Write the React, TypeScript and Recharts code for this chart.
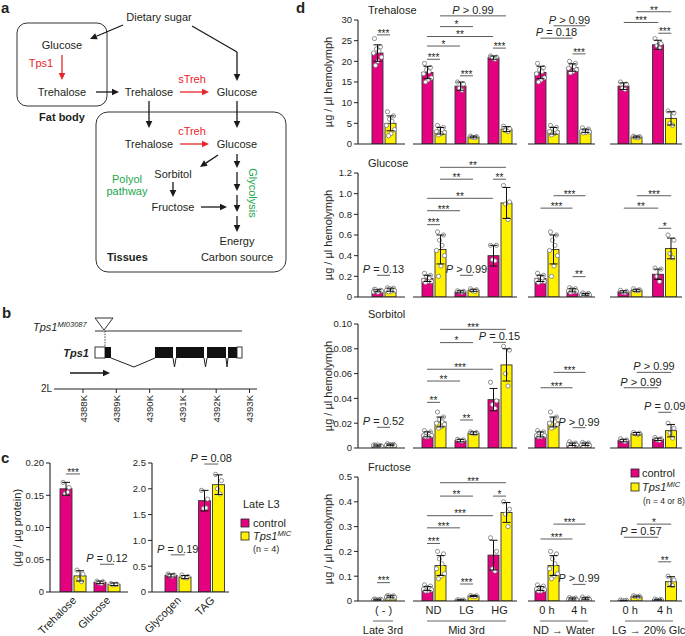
import React from "react";
import { BarChart, Bar, XAxis, YAxis, ErrorBar, ReferenceLine } from "recharts";

const MAGENTA = "#e4007f";
const YELLOW = "#fff100";
const INK = "#231f20";
const RED = "#e8262a";
const GREEN = "#1aa64b";
const FONT = "'Liberation Sans', Arial, sans-serif";

type Bracket = [number, number, number, number, number, string];

// ---------- panel c ----------
const cCatsA = ["Trehalose", "Glucose"];
const cCtrlA = [0.16, 0.015];
const cCtrlSdA = [0.01, 0.002];
const cMicA = [0.025, 0.012];
const cMicSdA = [0.008, 0.002];
const cCtrlPtsA = [[0.17, 0.162, 0.152, 0.155], [0.017, 0.016, 0.014, 0.013]];
const cMicPtsA = [[0.034, 0.028, 0.02, 0.016], [0.013, 0.012, 0.011, 0.012]];
const cBracketsA: Bracket[] = [[0, 0, 0, 1, 0.183, "***"], [1, 0, 1, 1, 0.043, "P = 0.12"]];
const cTicksA = [0, 0.05, 0.1, 0.15, 0.2];

const cCatsB = ["Glycogen", "TAG"];
const cCtrlB = [0.32, 1.77];
const cCtrlSdB = [0.03, 0.2];
const cMicB = [0.29, 2.08];
const cMicSdB = [0.03, 0.19];
const cCtrlPtsB = [[0.35, 0.33, 0.31, 0.3], [1.97, 1.8, 1.62, 1.63]];
const cMicPtsB = [[0.33, 0.3, 0.28, 0.27], [2.28, 2.16, 2.0, 1.9]];
const cBracketsB: Bracket[] = [[0, 0, 0, 1, 0.72, "P = 0.19"], [1, 0, 1, 1, 2.48, "P = 0.08"]];
const cTicksB = [0, 0.5, 1, 1.5, 2, 2.5];

// ---------- panel d ----------
const dCats = ["( - )", "ND", "LG", "HG", "0 h", "4 h", "0 h", "4 h"];
const dGroups = [[0], [1, 2, 3], [4, 5], [6, 7]];
const dGroupNames = ["Late 3rd", "Mid 3rd", "ND \u2192 Water", "LG \u2192 20% Glc"];

// Trehalose
const treCtrl = [22, 17.3, 14, 20.9, 17.3, 18.5, 14, 24];
const treCtrlSd = [2, 1.5, 1, 0.4, 1.5, 0.9, 0.8, 1.1];
const treMic = [5, 3.2, 1.7, 3.6, 3.2, 3.2, 1.7, 6.2];
const treMicSd = [1.8, 0.8, 0.2, 0.6, 0.8, 0.4, 0.2, 1.6];
const treCtrlPts = [
  [25.5, 23.5, 23, 22.5, 22, 21, 20, 19],
  [19.5, 18.5, 18, 17.5, 17, 16, 15.5, 15],
  [15, 14.5, 13.5, 13],
  [21.3, 21, 20.8, 20.5],
  [19.5, 18.5, 18, 17.5, 17, 16, 15.5, 15],
  [20, 19.5, 19, 18.7, 18.3, 18, 17.5, 17.2],
  [15, 14.5, 13.5, 13.2],
  [25.5, 24.3, 23.8, 23.2],
];
const treMicPts = [
  [7.8, 6.8, 6, 5.5, 4.5, 3.5, 2.5, 2],
  [4.5, 4, 3.8, 3.5, 3, 2.8, 2.5, 2.2],
  [1.9, 1.8, 1.6, 1.5],
  [4.3, 3.7, 3.3, 3],
  [4.5, 4, 3.8, 3.5, 3, 2.8, 2.5, 2.2],
  [3.9, 3.6, 3.3, 3.1, 3, 2.9, 2.8, 2.7],
  [1.9, 1.8, 1.6, 1.5],
  [8, 7.5, 5, 4.5],
];
const treBrackets: Bracket[] = [
  [0, 0, 0, 1, 26.4, "***"],
  [1, 0, 1, 1, 20.5, "***"],
  [1, 0, 2, 0, 23.7, "*"],
  [1, 0, 3, 0, 26, "**"],
  [1, 1, 2, 1, 28.4, "*"],
  [1, 1, 3, 1, 31, "P > 0.99"],
  [2, 0, 2, 1, 16.5, "***"],
  [3, 0, 3, 1, 23.2, "***"],
  [4, 0, 5, 0, 25.6, "P = 0.18"],
  [4, 1, 5, 1, 28.6, "P > 0.99"],
  [5, 0, 5, 1, 21.8, "***"],
  [6, 0, 7, 0, 29.4, "***"],
  [6, 1, 7, 1, 32, "**"],
  [7, 0, 7, 1, 26.8, "***"],
];

// Glucose
const gluCtrl = [0.06, 0.18, 0.05, 0.4, 0.18, 0.065, 0.05, 0.22];
const gluCtrlSd = [0.01, 0.03, 0.01, 0.1, 0.03, 0.015, 0.01, 0.05];
const gluMic = [0.07, 0.46, 0.065, 0.91, 0.46, 0.025, 0.065, 0.47];
const gluMicSd = [0.015, 0.14, 0.01, 0.15, 0.14, 0.008, 0.01, 0.1];
const gluCtrlPts = [
  [0.075, 0.065, 0.06, 0.055, 0.05, 0.06, 0.045, 0.07],
  [0.23, 0.21, 0.2, 0.18, 0.16, 0.15, 0.15, 0.14],
  [0.06, 0.055, 0.05, 0.045],
  [0.5, 0.5, 0.36, 0.35],
  [0.23, 0.21, 0.2, 0.18, 0.16, 0.15, 0.15, 0.14],
  [0.09, 0.08, 0.075, 0.065, 0.06, 0.055, 0.05, 0.045],
  [0.065, 0.055, 0.045, 0.04],
  [0.28, 0.27, 0.2, 0.15],
];
const gluMicPts = [
  [0.09, 0.085, 0.08, 0.07, 0.065, 0.06, 0.055, 0.05],
  [0.63, 0.6, 0.55, 0.5, 0.45, 0.4, 0.3, 0.2],
  [0.08, 0.07, 0.06, 0.055],
  [1.08, 0.92, 0.9, 0.75],
  [0.63, 0.6, 0.55, 0.5, 0.45, 0.4, 0.3, 0.2],
  [0.04, 0.035, 0.03, 0.025, 0.02, 0.02, 0.02, 0.015],
  [0.08, 0.07, 0.06, 0.06],
  [0.6, 0.55, 0.42, 0.38],
];
const gluBrackets: Bracket[] = [
  [0, 0, 0, 1, 0.21, "P = 0.13"],
  [1, 0, 1, 1, 0.7, "***"],
  [1, 0, 2, 0, 0.835, "***"],
  [1, 0, 3, 0, 0.955, "**"],
  [1, 1, 2, 1, 1.14, "**"],
  [1, 1, 3, 1, 1.255, "**"],
  [2, 0, 2, 1, 0.21, "P > 0.99"],
  [3, 0, 3, 1, 1.14, "**"],
  [4, 0, 5, 0, 0.86, "***"],
  [4, 1, 5, 1, 0.98, "***"],
  [5, 0, 5, 1, 0.197, "**"],
  [6, 0, 7, 0, 0.86, "**"],
  [6, 1, 7, 1, 0.98, "***"],
  [7, 0, 7, 1, 0.665, "*"],
];

// Sorbitol
const sorCtrl = [0.002, 0.011, 0.006, 0.039, 0.011, 0.003, 0.006, 0.007];
const sorCtrlSd = [0.0005, 0.002, 0.001, 0.009, 0.002, 0.001, 0.001, 0.001];
const sorMic = [0.0025, 0.021, 0.012, 0.067, 0.021, 0.003, 0.0115, 0.014];
const sorMicSd = [0.0006, 0.004, 0.001, 0.013, 0.004, 0.001, 0.001, 0.005];
const sorCtrlPts = [
  [0.0025, 0.002, 0.002, 0.0018, 0.0022, 0.0015, 0.0025, 0.002],
  [0.014, 0.013, 0.012, 0.011, 0.01, 0.01, 0.009, 0.009],
  [0.007, 0.0065, 0.006, 0.0055],
  [0.053, 0.038, 0.035, 0.032],
  [0.014, 0.013, 0.012, 0.011, 0.01, 0.01, 0.009, 0.009],
  [0.005, 0.004, 0.0035, 0.003, 0.003, 0.0025, 0.002, 0.0015],
  [0.0075, 0.0065, 0.006, 0.005],
  [0.0085, 0.0075, 0.0065, 0.006],
];
const sorMicPts = [
  [0.0035, 0.003, 0.0028, 0.0025, 0.0022, 0.002, 0.002, 0.0018],
  [0.029, 0.025, 0.023, 0.021, 0.02, 0.019, 0.017, 0.016],
  [0.013, 0.0125, 0.012, 0.0115],
  [0.082, 0.079, 0.06, 0.05],
  [0.029, 0.025, 0.023, 0.021, 0.02, 0.019, 0.017, 0.016],
  [0.0045, 0.004, 0.0035, 0.003, 0.0025, 0.002, 0.002, 0.0015],
  [0.0125, 0.012, 0.0115, 0.011],
  [0.02, 0.016, 0.012, 0.008],
];
const sorBrackets: Bracket[] = [
  [0, 0, 0, 1, 0.0167, "P = 0.52"],
  [1, 0, 1, 1, 0.0368, "**"],
  [1, 0, 2, 0, 0.054, "**"],
  [1, 0, 3, 0, 0.0635, "***"],
  [1, 1, 2, 1, 0.085, "*"],
  [1, 1, 3, 1, 0.0957, "***"],
  [2, 0, 2, 1, 0.0226, "**"],
  [3, 0, 3, 1, 0.0852, "P = 0.15"],
  [4, 0, 5, 0, 0.0486, "***"],
  [4, 1, 5, 1, 0.061, "***"],
  [5, 0, 5, 1, 0.0164, "P > 0.99"],
  [6, 0, 7, 0, 0.0486, "P > 0.99"],
  [6, 1, 7, 1, 0.061, "P > 0.99"],
  [7, 0, 7, 1, 0.0288, "P = 0.09"],
];

// Fructose
const fruCtrl = [0.005, 0.05, 0.004, 0.185, 0.05, 0.008, 0.002, 0.005];
const fruCtrlSd = [0.002, 0.008, 0.001, 0.06, 0.008, 0.004, 0.001, 0.002];
const fruMic = [0.017, 0.143, 0.02, 0.357, 0.143, 0.009, 0.018, 0.078];
const fruMicSd = [0.004, 0.04, 0.002, 0.04, 0.04, 0.004, 0.002, 0.02];
const fruCtrlPts = [
  [0.008, 0.007, 0.006, 0.005, 0.004, 0.004, 0.003, 0.003],
  [0.065, 0.06, 0.055, 0.05, 0.048, 0.045, 0.04, 0.04],
  [0.005, 0.004, 0.004, 0.003],
  [0.255, 0.2, 0.13, 0.12],
  [0.065, 0.06, 0.055, 0.05, 0.048, 0.045, 0.04, 0.04],
  [0.014, 0.012, 0.01, 0.008, 0.007, 0.005, 0.004, 0.004],
  [0.004, 0.003, 0.002, 0.001],
  [0.008, 0.006, 0.004, 0.003],
];
const fruMicPts = [
  [0.022, 0.021, 0.02, 0.018, 0.016, 0.015, 0.013, 0.012],
  [0.2, 0.19, 0.17, 0.15, 0.13, 0.11, 0.1, 0.09],
  [0.022, 0.021, 0.019, 0.018],
  [0.4, 0.37, 0.35, 0.3],
  [0.2, 0.19, 0.17, 0.15, 0.13, 0.11, 0.1, 0.09],
  [0.016, 0.012, 0.01, 0.009, 0.007, 0.006, 0.005, 0.004],
  [0.021, 0.019, 0.018, 0.016],
  [0.1, 0.085, 0.07, 0.062],
];
const fruBrackets: Bracket[] = [
  [0, 0, 0, 1, 0.074, "***"],
  [1, 0, 1, 1, 0.232, "***"],
  [1, 0, 2, 0, 0.295, "***"],
  [1, 0, 3, 0, 0.344, "***"],
  [1, 1, 2, 1, 0.423, "**"],
  [1, 1, 3, 1, 0.477, "***"],
  [2, 0, 2, 1, 0.0685, "***"],
  [3, 0, 3, 1, 0.423, "*"],
  [4, 0, 5, 0, 0.25, "***"],
  [4, 1, 5, 1, 0.31, "***"],
  [5, 0, 5, 1, 0.067, "P > 0.99"],
  [6, 0, 7, 0, 0.257, "P = 0.57"],
  [6, 1, 7, 1, 0.31, "*"],
  [7, 0, 7, 1, 0.158, "**"],
];

const bTicks = ["4388K", "4389K", "4390K", "4391K", "4392K", "4393K"];

type Series = {
  cats: string[];
  ctrl: number[];
  ctrlSd: number[];
  mic: number[];
  micSd: number[];
  ctrlPts: number[][];
  micPts: number[][];
  brackets: Bracket[];
};

const dRows = [
  { title: "Trehalose", top: 20, ticks: [0, 5, 10, 15, 20, 25, 30], dec: 0,
    s: { cats: dCats, ctrl: treCtrl, ctrlSd: treCtrlSd, mic: treMic, micSd: treMicSd, ctrlPts: treCtrlPts, micPts: treMicPts, brackets: treBrackets } },
  { title: "Glucose", top: 173, ticks: [0, 0.2, 0.4, 0.6, 0.8, 1.0, 1.2], dec: 1,
    s: { cats: dCats, ctrl: gluCtrl, ctrlSd: gluCtrlSd, mic: gluMic, micSd: gluMicSd, ctrlPts: gluCtrlPts, micPts: gluMicPts, brackets: gluBrackets } },
  { title: "Sorbitol", top: 324, ticks: [0, 0.02, 0.04, 0.06, 0.08, 0.1], dec: 2,
    s: { cats: dCats, ctrl: sorCtrl, ctrlSd: sorCtrlSd, mic: sorMic, micSd: sorMicSd, ctrlPts: sorCtrlPts, micPts: sorMicPts, brackets: sorBrackets } },
  { title: "Fructose", top: 477, ticks: [0, 0.1, 0.2, 0.3, 0.4, 0.5], dec: 1,
    s: { cats: dCats, ctrl: fruCtrl, ctrlSd: fruCtrlSd, mic: fruMic, micSd: fruMicSd, ctrlPts: fruCtrlPts, micPts: fruMicPts, brackets: fruBrackets } },
];

// plot x-extent of each group in panel d
const dLayout = [
  { x0: 358, x1: 405, pl: 4, pr: 0 },
  { x0: 413, x1: 517, pl: 4, pr: 1 },
  { x0: 528, x1: 595, pl: 3, pr: 0 },
  { x0: 610, x1: 682, pl: 3, pr: 0 },
];

const jitter = [-3, 3, -1, 1.5, -4, 4, 0.5, -2];

const barWithDots = (ptsKey: string, valKey: string) => (p: any) => {
  const { x, y, width, height, fill, payload } = p;
  const base = y + height;
  const k = payload[valKey] ? height / payload[valKey] : 0;
  const pts: number[] = payload[ptsKey] || [];
  return (
    <g>
      <rect x={x} y={y} width={width} height={height} fill={fill} stroke="#333" strokeWidth={0.9} />
      {pts.map((v, i) => (
        <circle key={i} cx={x + width / 2 + jitter[i % jitter.length]} cy={base - v * k} r={2.1}
          fill="#fff" stroke="#777" strokeWidth={0.8} />
      ))}
    </g>
  );
};

const SigText = ({ x, y, label }: { x: number; y: number; label: string }) => {
  if (label.startsWith("P")) {
    return (
      <text x={x} y={y - 2} textAnchor="middle" fontSize={11} fill={INK}>
        <tspan fontStyle="italic">P</tspan>
        {label.slice(1)}
      </text>
    );
  }
  return (
    <text x={x} y={y + 1.8} textAnchor="middle" fontSize={10} fill={INK}>{label}</text>
  );
};

const bracketShape = (dx1: number, dx2: number, label: string) => (p: any) => {
  const x1 = p.x1 + dx1;
  const x2 = p.x2 + dx2;
  const y = p.y1;
  return (
    <g>
      <line x1={x1} x2={x2} y1={y} y2={y} stroke="#4a4a4a" strokeWidth={0.9} />
      <SigText x={(x1 + x2) / 2} y={y} label={label} />
    </g>
  );
};

const RotTick = (p: any) => (
  <text x={p.x + 4} y={p.y + 4} textAnchor="end" fontSize={11} fill={INK}
    transform={`rotate(-45 ${p.x + 4} ${p.y + 4})`}>
    {p.payload.value}
  </text>
);

function GroupChart(props: {
  s: Series; idx: number[]; x0: number; x1: number; pl: number; pr: number;
  top: number; plotH: number; ticks: number[]; dec: number; showY: boolean;
  bottom: boolean; rotated?: boolean; barSize: number;
}) {
  const { s, idx, x0, x1, pl, pr, top, plotH, ticks, dec, showY, bottom, rotated, barSize } = props;
  const yw = showY ? 30 : 0;
  const mt = 34;
  const mr = 26;
  const mb = bottom ? 0 : 8;
  const xh = bottom ? (rotated ? 44 : 22) : 1;
  const max = ticks[ticks.length - 1];
  const half = (barSize + 2) / 2;
  const data = idx.map((i) => ({
    cat: s.cats[i], ctrl: s.ctrl[i], ctrlSd: s.ctrlSd[i], mic: s.mic[i], micSd: s.micSd[i],
    ctrlPts: s.ctrlPts[i], micPts: s.micPts[i],
  }));
  const brs = s.brackets.filter((b) => idx.includes(b[0]));
  const tick = bottom ? (rotated ? <RotTick /> : { fontSize: 11, fill: INK }) : false;
  return (
    <div style={{ position: "absolute", left: x0 - yw, top: top - mt }}>
      <BarChart width={yw + x1 - x0 + mr} height={mt + plotH + xh + mb} data={data}
        margin={{ top: mt, right: mr, bottom: mb, left: 0 }} barSize={barSize} barGap={2}>
        <XAxis dataKey="cat" type="category" padding={{ left: pl, right: pr }} tickLine={false}
          axisLine={{ stroke: INK, strokeWidth: 1.1 }} height={xh} tick={tick as any}
          interval={0} tickSize={4} tickMargin={1} />
        <YAxis width={yw} hide={!showY} type="number" domain={[0, max]} ticks={ticks} allowDataOverflow
          interval={0}
          tickFormatter={(v: number) => (v === 0 ? "0" : v.toFixed(dec))}
          tick={{ fontSize: 9.5, fill: INK }} tickSize={4} tickMargin={2}
          axisLine={{ stroke: INK, strokeWidth: 1.1 }} tickLine={{ stroke: INK }} />
        <Bar dataKey="ctrl" fill={MAGENTA} isAnimationActive={false} shape={barWithDots("ctrlPts", "ctrl")}>
          <ErrorBar dataKey="ctrlSd" width={4} stroke="#111" strokeWidth={1} />
        </Bar>
        <Bar dataKey="mic" fill={YELLOW} isAnimationActive={false} shape={barWithDots("micPts", "mic")}>
          <ErrorBar dataKey="micSd" width={4} stroke="#111" strokeWidth={1} />
        </Bar>
        {brs.map((b, i) => (
          <ReferenceLine key={i} ifOverflow="visible"
            segment={[{ x: s.cats[b[0]], y: b[4] }, { x: s.cats[b[2]], y: b[4] }]}
            shape={bracketShape(b[1] === 0 ? -half : half, b[3] === 0 ? -half : half, b[5])} />
        ))}
      </BarChart>
    </div>
  );
}

const Arrow = ({ x1, y1, x2, y2, c = "#1a1a1a" }: any) => {
  const a = Math.atan2(y2 - y1, x2 - x1);
  const L = 7, W = 3.3;
  const bx = x2 - L * Math.cos(a), by = y2 - L * Math.sin(a);
  const px = -Math.sin(a) * W, py = Math.cos(a) * W;
  return (
    <g>
      <line x1={x1} y1={y1} x2={bx} y2={by} stroke={c} strokeWidth={1.3} />
      <polygon points={`${x2},${y2} ${bx + px},${by + py} ${bx - px},${by - py}`} fill={c} />
    </g>
  );
};

const T = ({ x, y, c = INK, a = "middle", w, children, s = 11, i }: any) => (
  <text x={x} y={y} fill={c} textAnchor={a} fontSize={s} fontWeight={w} fontStyle={i ? "italic" : undefined}>
    {children}
  </text>
);

function Overlay() {
  return (
    <svg width={685} height={636} style={{ position: "absolute", left: 0, top: 0, pointerEvents: "none" }}
      fontFamily={FONT}>
      {/* panel letters */}
      <T x={1} y={13} a="start" s={15} w="bold">a</T>
      <T x={2} y={318} a="start" s={15} w="bold">b</T>
      <T x={1} y={463} a="start" s={15} w="bold">c</T>
      <T x={296} y={13} a="start" s={15} w="bold">d</T>

      {/* panel a */}
      <rect x={17} y={23} width={90} height={83} rx={10} fill="none" stroke="#333" strokeWidth={1} />
      <rect x={96} y={112} width={190} height={160} rx={12} fill="none" stroke="#333" strokeWidth={1} />
      <T x={159} y={21}>Dietary sugar</T>
      <T x={62} y={49}>Glucose</T>
      <T x={41} y={67} c={RED}>Tps1</T>
      <T x={62} y={96}>Trehalose</T>
      <T x={149} y={96}>Trehalose</T>
      <T x={192} y={83} c={RED}>sTreh</T>
      <T x={237} y={96}>Glucose</T>
      <T x={62} y={121} w="bold">Fat body</T>
      <T x={192} y={135} c={RED}>cTreh</T>
      <T x={149} y={148}>Trehalose</T>
      <T x={237} y={148}>Glucose</T>
      <T x={173} y={178}>Sorbitol</T>
      <T x={127} y={183} c={GREEN}>Polyol</T>
      <T x={127} y={195} c={GREEN}>pathway</T>
      <T x={173} y={211}>Fructose</T>
      <text x={249} y={193} fill={GREEN} fontSize={11} textAnchor="middle" transform="rotate(90 249 193)">Glycolysis</text>
      <T x={237} y={245}>Energy</T>
      <T x={237} y={261}>Carbon source</T>
      <T x={107} y={261} a="start" w="bold">Tissues</T>
      <Arrow x1={123} y1={25} x2={90} y2={39} />
      <line x1={192} y1={26} x2={237} y2={52} stroke="#1a1a1a" strokeWidth={1.3} />
      <Arrow x1={237} y1={52} x2={237} y2={81} />
      <Arrow x1={62} y1={55} x2={62} y2={80} c={RED} />
      <Arrow x1={96} y1={92} x2={119} y2={92} />
      <Arrow x1={180} y1={92} x2={209} y2={92} c={RED} />
      <Arrow x1={149} y1={101} x2={149} y2={128} />
      <Arrow x1={237} y1={101} x2={237} y2={128} />
      <Arrow x1={180} y1={144} x2={209} y2={144} c={RED} />
      <Arrow x1={218} y1={155} x2={200} y2={167} />
      <Arrow x1={237} y1={154} x2={237} y2={168} />
      <Arrow x1={237} y1={172} x2={237} y2={191} />
      <Arrow x1={237} y1={195} x2={237} y2={212} />
      <Arrow x1={237} y1={216} x2={237} y2={232} />
      <Arrow x1={173} y1={182} x2={173} y2={197} />
      <Arrow x1={201} y1={207} x2={227} y2={207} />

      {/* panel b */}
      <text x={33} y={331} fontSize={11} fontStyle="italic" fill={INK}>
        Tps1<tspan fontSize={7.5} dy={-4}>MI03087</tspan>
      </text>
      <line x1={95} y1={331} x2={242} y2={331} stroke="#333" strokeWidth={1} />
      <polygon points="95,318 113,318 104,330" fill="#fff" stroke="#333" strokeWidth={1} />
      <line x1={105} y1={331} x2={105} y2={358} stroke="#444" strokeWidth={1} strokeDasharray="1.5 1.2" />
      <T x={89} y={357} a="end" w="bold" i>Tps1</T>
      <rect x={95} y={347} width={10} height={11} fill="#fff" stroke="#222" strokeWidth={0.9} />
      <rect x={105} y={347} width={6} height={11} fill="#111" />
      <polyline points="111,358 134,367 155,358" fill="none" stroke="#222" strokeWidth={1} />
      <rect x={155} y={347} width={18} height={11} fill="#111" />
      <rect x={176} y={347} width={28} height={11} fill="#111" />
      <rect x={207} y={347} width={19} height={11} fill="#111" />
      <rect x={228} y={347} width={9} height={11} fill="#111" />
      <rect x={237} y={347} width={5} height={11} fill="#fff" stroke="#222" strokeWidth={0.9} />
      <polyline points="173,358 174.5,367 176,358" fill="none" stroke="#222" strokeWidth={1} />
      <polyline points="204,358 205.5,367 207,358" fill="none" stroke="#222" strokeWidth={1} />
      <polyline points="226,358 227,367 228,358" fill="none" stroke="#222" strokeWidth={1} />
      <Arrow x1={70} y1={373} x2={110} y2={373} />
      <T x={52} y={392} a="end" s={10}>2L</T>
      <line x1={54} y1={389} x2={257} y2={389} stroke="#222" strokeWidth={1.1} />
      {bTicks.map((t, i) => {
        const x = 83 + i * 33.3;
        return (
          <g key={t}>
            <line x1={x} y1={389} x2={x} y2={393} stroke="#222" strokeWidth={1} />
            <text x={x + 3.5} y={395} fontSize={9.5} fill={INK} textAnchor="end" transform={`rotate(-90 ${x + 3.5} 395)`}>{t}</text>
          </g>
        );
      })}

      {/* panel c labels */}
      <text x={21} y={528} fontSize={11} fill={INK} textAnchor="middle" transform="rotate(-90 21 528)">({"\u00b5"}g / {"\u00b5"}g protein)</text>
      <T x={243} y={508} a="start">Late L3</T>
      <rect x={241} y={519} width={8} height={8} fill={MAGENTA} stroke="#222" strokeWidth={0.8} />
      <T x={253} y={527} a="start">control</T>
      <rect x={241} y={532} width={8} height={8} fill={YELLOW} stroke="#222" strokeWidth={0.8} />
      <text x={253} y={540} fontSize={11} fill={INK} fontStyle="italic">Tps1<tspan fontSize={7.5} dy={-4}>MIC</tspan></text>
      <T x={253} y={552} a="start" s={9}>(n = 4)</T>

      {/* panel d labels */}
      {dRows.map((r) => (
        <g key={r.title}>
          <T x={368} y={r.top - 6} a="start">{r.title}</T>
          <text x={332} y={r.top + 62} fontSize={11} fill={INK} textAnchor="middle"
            transform={`rotate(-90 332 ${r.top + 62})`}>{"\u00b5"}g / {"\u00b5"}l hemolymph</text>
        </g>
      ))}
      {[[373, 393], [427, 506], [540, 588], [625, 673]].map(([a, b], i) => (
        <g key={i}>
          <line x1={a} y1={621} x2={b} y2={621} stroke="#555" strokeWidth={0.9} />
          <T x={i === 3 ? 612 : (a + b) / 2} y={634} a={i === 3 ? "start" : "middle"}>{dGroupNames[i]}</T>
        </g>
      ))}
      <rect x={631} y={469} width={8} height={8} fill={MAGENTA} stroke="#222" strokeWidth={0.8} />
      <T x={642} y={477} a="start">control</T>
      <rect x={631} y={483} width={8} height={8} fill={YELLOW} stroke="#222" strokeWidth={0.8} />
      <text x={642} y={491} fontSize={11} fill={INK} fontStyle="italic">Tps1<tspan fontSize={7.5} dy={-4}>MIC</tspan></text>
      <T x={643} y={504} a="start" s={8.5}>(n = 4 or 8)</T>
    </svg>
  );
}

export default function App() {
  const cA: Series = { cats: cCatsA, ctrl: cCtrlA, ctrlSd: cCtrlSdA, mic: cMicA, micSd: cMicSdA, ctrlPts: cCtrlPtsA, micPts: cMicPtsA, brackets: cBracketsA };
  const cB: Series = { cats: cCatsB, ctrl: cCtrlB, ctrlSd: cCtrlSdB, mic: cMicB, micSd: cMicSdB, ctrlPts: cCtrlPtsB, micPts: cMicPtsB, brackets: cBracketsB };
  return (
    <div style={{ position: "absolute", left: 0, top: 0, width: 685, height: 636, overflow: "hidden",
      background: "#fff", fontFamily: FONT, color: INK }}>
      <GroupChart s={cA} idx={[0, 1]} x0={50} x1={128} pl={6} pr={4} top={463} plotH={129}
        ticks={cTicksA} dec={2} showY bottom rotated barSize={12} />
      <GroupChart s={cB} idx={[0, 1]} x0={152} x1={229} pl={9} pr={1} top={463} plotH={129}
        ticks={cTicksB} dec={1} showY bottom rotated barSize={12} />
      {dRows.map((r, ri) =>
        dGroups.map((idx, gi) => (
          <GroupChart key={`${ri}-${gi}`} s={r.s} idx={idx} {...dLayout[gi]} top={r.top} plotH={124}
            ticks={r.ticks} dec={r.dec} showY={gi === 0} bottom={ri === dRows.length - 1} barSize={11} />
        ))
      )}
      <Overlay />
    </div>
  );
}
